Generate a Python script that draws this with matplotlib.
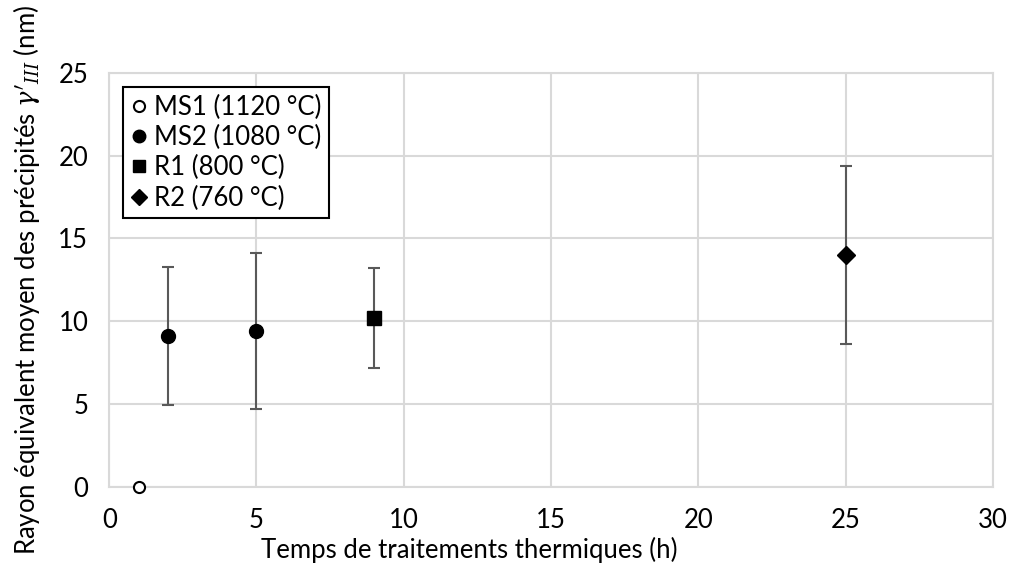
import matplotlib

matplotlib.use("Agg")
import matplotlib.pyplot as plt
from matplotlib.lines import Line2D

plt.rcParams["font.family"] = ["Lato", "DejaVu Sans"]
plt.rcParams["mathtext.fontset"] = "dejavuserif"

# Data
ms1_time = [1]
ms1_radius = [0.0]

ms2_time = [2, 5]
ms2_radius = [9.1, 9.4]
ms2_err = [4.15, 4.7]

r1_time = [9]
r1_radius = [10.2]
r1_err = [3.0]

r2_time = [25]
r2_radius = [14.0]
r2_err = [5.4]

labels = ["MS1 (1120 °C)", "MS2 (1080 °C)", "R1 (800 °C)", "R2 (760 °C)"]

_GRID = "#d9d9d9"
_ERR = "#595959"
_FS = 18.5

fig = plt.figure(figsize=(10.11, 5.70), dpi=100)
ax = fig.add_axes([0.108, 0.146, 0.874, 0.726])

err_kw = dict(ecolor=_ERR, elinewidth=1.5, capsize=4, capthick=1.5, linestyle="none", zorder=3)
ax.plot(ms1_time, ms1_radius, "o", ms=8, mfc="white", mec="black", mew=1.5, zorder=4, clip_on=False)
ax.errorbar(ms2_time, ms2_radius, yerr=ms2_err, fmt="o", ms=10, color="black", **err_kw)
ax.errorbar(r1_time, r1_radius, yerr=r1_err, fmt="s", ms=9.5, color="black", **err_kw)
ax.errorbar(r2_time, r2_radius, yerr=r2_err, fmt="D", ms=9, color="black", **err_kw)

ax.set_xlim(0, 30)
ax.set_ylim(0, 25)
ax.set_xticks(range(0, 31, 5))
ax.set_yticks(range(0, 26, 5))
ax.grid(True, color=_GRID, linewidth=1.5, zorder=0)
ax.set_axisbelow(True)
for spine in ax.spines.values():
    spine.set_color(_GRID)
    spine.set_linewidth(1.5)
ax.tick_params(length=0, labelsize=_FS, colors="#000000", pad=15)

# the x title sits left of the plot centre in the original
ax.set_xlabel("Temps de traitements thermiques (h)", fontsize=_FS, labelpad=3, x=0.408)
ax.set_ylabel(r"Rayon équivalent moyen des précipités $\gamma'_{III}$ (nm)", fontsize=_FS, labelpad=12)

handles = [
    Line2D([], [], marker="o", ls="none", ms=8, mfc="white", mec="black", mew=1.5),
    Line2D([], [], marker="o", ls="none", ms=9, color="black"),
    Line2D([], [], marker="s", ls="none", ms=9, color="black"),
    Line2D([], [], marker="D", ls="none", ms=8, color="black"),
]
leg = ax.legend(handles, labels, loc="upper left", bbox_to_anchor=(0.016, 0.966), fontsize=_FS,
                handlelength=0.6, handletextpad=0.3, borderpad=0.3, labelspacing=0.2,
                borderaxespad=0, fancybox=False, framealpha=1, edgecolor="black")
leg.get_frame().set_linewidth(1.5)

fig.savefig("out.png", dpi=100)
